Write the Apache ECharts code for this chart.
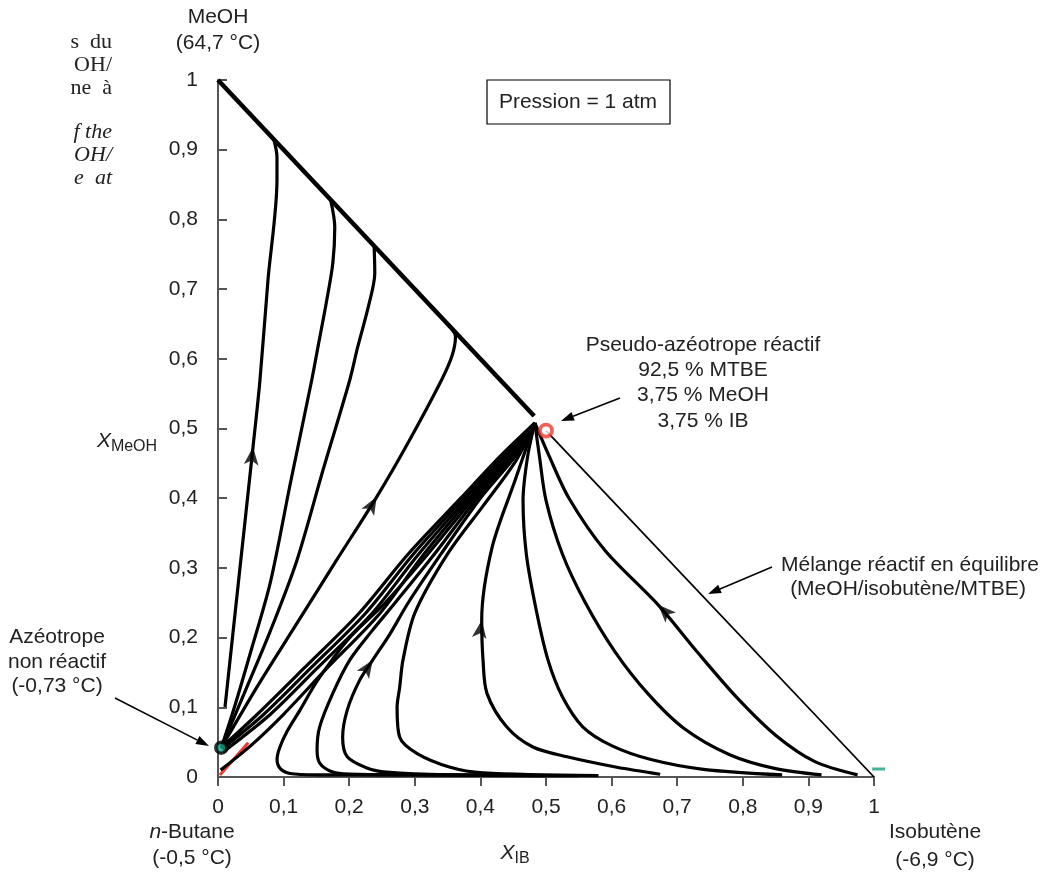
<!DOCTYPE html>
<html><head><meta charset="utf-8">
<script src="https://cdn.jsdelivr.net/npm/echarts@6/dist/echarts.min.js"></script>
<style>html,body{margin:0;padding:0;background:#fff}#c{width:1050px;height:875px}</style>
</head><body><div id="c"></div>
<script>
// ---------- data (x = X_IB, y = X_MeOH) ----------
const tickLabels = ['0','0,1','0,2','0,3','0,4','0,5','0,6','0,7','0,8','0,9','1'];

const diagonal = [[0,1],[0.482,0.518]];
const equilibriumLine = [[0.5,0.497],[1,0]];
const pseudoAzeotrope = [0.5,0.497];
const nonReactiveAzeotrope = [0.005,0.042];
const redSegment = [[0.003,0.003],[0.046,0.049]];
const tealMark = [1.007,0.0115];

const curveU1 = [[0.0107,0.1004],[0.032,0.287],[0.0534,0.4735],[0.064,0.5696],[0.0762,0.7131],[0.0899,0.8565],[0.0899,0.8895],[0.085,0.915]];
const curveU2 = [[0.005,0.042],[0.025,0.1],[0.05,0.18],[0.08,0.28],[0.11,0.42],[0.143,0.57],[0.153,0.62],[0.165,0.68],[0.175,0.737],[0.178,0.789],[0.171,0.831]];
const curveU3 = [[0.005,0.042],[0.04,0.12],[0.08,0.21],[0.12,0.31],[0.16,0.44],[0.201,0.57],[0.213,0.617],[0.229,0.674],[0.239,0.723],[0.238,0.762]];
const curveU4 = [[0.005,0.042],[0.06,0.13],[0.12,0.22],[0.18,0.31],[0.242,0.402],[0.29,0.48],[0.341,0.57],[0.357,0.605],[0.362,0.632],[0.352,0.648]];

const curveB1 = [[0.005,0.042],[0.06,0.09],[0.13,0.155],[0.215,0.235],[0.29,0.32],[0.37,0.40],[0.43,0.46],[0.483,0.508]];
const curveB2 = [[0.006,0.04],[0.07,0.09],[0.14,0.155],[0.225,0.235],[0.298,0.32],[0.375,0.40],[0.435,0.46],[0.483,0.508]];
const curveB3 = [[0.008,0.036],[0.08,0.09],[0.15,0.155],[0.235,0.235],[0.306,0.32],[0.38,0.40],[0.44,0.46],[0.483,0.508]];
const curveB4 = [[0.004,0.01],[0.05,0.045],[0.1,0.09],[0.165,0.155],[0.247,0.235],[0.314,0.32],[0.385,0.40],[0.443,0.46],[0.483,0.508]];

const curveL1 = [[0.42,0.003],[0.25,0.003],[0.15,0.003],[0.11,0.005],[0.095,0.012],[0.09,0.025],[0.094,0.042],[0.105,0.065],[0.125,0.096],[0.152,0.139],[0.198,0.197],[0.255,0.25],[0.32,0.32],[0.39,0.40],[0.447,0.46],[0.483,0.508]];
const curveL2 = [[0.5,0.002],[0.3,0.003],[0.2,0.004],[0.175,0.007],[0.155,0.02],[0.151,0.039],[0.155,0.072],[0.175,0.12],[0.201,0.168],[0.235,0.21],[0.27,0.25],[0.33,0.32],[0.395,0.40],[0.45,0.46],[0.483,0.508]];
const curveL3 = [[0.55,0.002],[0.35,0.003],[0.257,0.007],[0.227,0.013],[0.197,0.029],[0.19,0.057],[0.197,0.096],[0.216,0.139],[0.236,0.168],[0.262,0.205],[0.29,0.25],[0.34,0.32],[0.40,0.40],[0.453,0.46],[0.483,0.508]];
const curveL4 = [[0.58,0.002],[0.404,0.006],[0.354,0.014],[0.303,0.034],[0.277,0.057],[0.273,0.1],[0.277,0.129],[0.282,0.168],[0.30,0.235],[0.35,0.32],[0.405,0.39],[0.455,0.455],[0.483,0.508]];
const curveL5 = [[0.674,0.004],[0.608,0.014],[0.532,0.029],[0.48,0.043],[0.44,0.072],[0.41,0.12],[0.404,0.168],[0.402,0.225],[0.418,0.33],[0.453,0.426],[0.483,0.508]];

const curveR1 = [[0.483,0.508],[0.472,0.46],[0.465,0.397],[0.47,0.32],[0.485,0.24],[0.503,0.168],[0.525,0.115],[0.556,0.072],[0.60,0.045],[0.66,0.025],[0.74,0.011],[0.86,0.003]];
const curveR2 = [[0.483,0.508],[0.49,0.46],[0.5,0.397],[0.525,0.32],[0.56,0.25],[0.605,0.18],[0.655,0.12],[0.71,0.07],[0.78,0.032],[0.85,0.012],[0.92,0.003]];
const curveR3 = [[0.483,0.508],[0.505,0.46],[0.535,0.40],[0.59,0.325],[0.671,0.247],[0.73,0.18],[0.79,0.115],[0.85,0.06],[0.91,0.022],[0.975,0.003]];

// arrow marks: [x, y, towardX, towardY]
const arrowMarks = [[0.0534,0.4735,0.064,0.5696],[0.242,0.402,0.29,0.48],[0.236,0.168,0.262,0.205],[0.402,0.225,0.418,0.33],[0.671,0.247,0.59,0.325]];

// ---------- chart ----------
const FONT = "'Liberation Sans', Arial, sans-serif";
const FS = 21;
const chart = echarts.init(document.getElementById('c'), null, {renderer:'canvas'});

const residueCurves = [curveU1,curveU2,curveU3,curveU4,curveB1,curveB2,curveB3,curveB4,curveL1,curveL2,curveL3,curveL4,curveL5,curveR1,curveR2,curveR3];

function lineSeries(data, opts) {
  return Object.assign({type:'line', data, showSymbol:false, symbol:'none', silent:true,
    lineStyle:{color:'#000', width:3.2}, z:3}, opts||{});
}

const series = [];
residueCurves.forEach(c => series.push(lineSeries(c, {smooth:0.3})));
series.push(lineSeries(diagonal, {lineStyle:{color:'#000', width:4.5}}));
series.push(lineSeries(equilibriumLine, {lineStyle:{color:'#000', width:1.8}}));
series.push(lineSeries(redSegment, {lineStyle:{color:'#ee3b30', width:3}, z:2}));
series.push({type:'scatter', data:[tealMark], symbol:'rect', symbolSize:[13,3], clip:false,
  itemStyle:{color:'#17a083'}, z:6, silent:true});
series.push({type:'scatter', id:'arrows', data: arrowMarks.map(a=>[a[0],a[1]]), symbol:'arrow', symbolSize:[11,18],
  itemStyle:{color:'#000'}, z:6, silent:true});
series.push({type:'scatter', data:[nonReactiveAzeotrope], symbol:'circle', symbolSize:11,
  itemStyle:{color:'#13a085', borderColor:'#000', borderWidth:3.5}, z:8, silent:true});
series.push({type:'scatter', data:[pseudoAzeotrope], symbol:'circle', symbolSize:12,
  itemStyle:{color:'#fff', borderColor:'#f0392c', borderWidth:3.8}, z:8, silent:true});

function arrowGraphic(x1,y1,x2,y2){
  const ang = Math.atan2(y2-y1, x2-x1), L=13, W=4.5;
  const bx = x2 - L*Math.cos(ang), by = y2 - L*Math.sin(ang);
  const px = -Math.sin(ang)*W, py = Math.cos(ang)*W;
  return [
    {type:'line', shape:{x1,y1,x2:bx,y2:by}, style:{stroke:'#000', lineWidth:1.5}, z:20},
    {type:'polygon', shape:{points:[[x2,y2],[bx+px,by+py],[bx-px,by-py]]}, style:{fill:'#000'}, z:20}
  ];
}
function txt(x,y,text){
  return {type:'text', x, y, z:20, style:{text, fill:'#222', font:FS+'px '+FONT,
    textAlign:'center', textVerticalAlign:'middle'}};
}
const serif = "'Liberation Serif', 'Times New Roman', serif";
function captionTxt(y,text,italic){
  return {type:'text', x:112, y, z:20, style:{text, fill:'#222', font:(italic?'italic ':'')+'22px '+serif, textAlign:'right', textVerticalAlign:'middle'}};
}

const graphic = [
  captionTxt(42,'s  du',false), captionTxt(65,'OH/',false), captionTxt(88,'ne  à',false),
  captionTxt(132,'f the',true), captionTxt(155,'OH/',true), captionTxt(178,'e  at',true),
  txt(218,17,'MeOH'), txt(218,43,'(64,7 °C)'),
  {type:'rect', shape:{x:487,y:80,width:183,height:44}, style:{fill:'#fff', stroke:'#000', lineWidth:1.2}, z:19},
  txt(578,102,'Pression = 1 atm'),
  txt(703,345,'Pseudo-azéotrope réactif'), txt(703,370,'92,5 % MTBE'), txt(703,395,'3,75 % MeOH'), txt(703,421,'3,75 % IB'),
  ...arrowGraphic(620,398,561,421),
  txt(910,565,'Mélange réactif en équilibre'), txt(908,589,'(MeOH/isobutène/MTBE)'),
  ...arrowGraphic(772,567,708,594),
  txt(57,637,'Azéotrope'), txt(57,662,'non réactif'), txt(57,686,'(-0,73 °C)'),
  ...arrowGraphic(115,698,209,746),
  {type:'text', x:192, y:832, z:20, style:{text:'{i|n}{r|-Butane}', textAlign:'center', textVerticalAlign:'middle',
    rich:{i:{font:'italic '+FS+'px '+FONT, fill:'#222'}, r:{font:FS+'px '+FONT, fill:'#222'}}}},
  txt(192,858,'(-0,5 °C)'),
  txt(935,832,'Isobutène'), txt(935,860,'(-6,9 °C)'),
  {type:'text', x:515, y:853, z:20, style:{text:'{x|X}{s|IB}', textAlign:'center', textVerticalAlign:'middle',
    rich:{x:{font:'italic '+FS+'px '+FONT, fill:'#222'}, s:{font:'16px '+FONT, fill:'#222', padding:[12,0,0,0]}}}},
  {type:'text', x:127, y:441, z:20, style:{text:'{x|X}{s|MeOH}', textAlign:'center', textVerticalAlign:'middle',
    rich:{x:{font:'italic '+FS+'px '+FONT, fill:'#222'}, s:{font:'16px '+FONT, fill:'#222', padding:[12,0,0,0]}}}}
];

const axisCommon = {
  min:0, max:1, interval:0.1,
  axisLine:{show:true, onZero:false, lineStyle:{color:'#555', width:2}},
  splitLine:{show:false},
  axisLabel:{color:'#222', fontSize:FS, fontFamily:FONT, formatter:v=>tickLabels[Math.round(v*10)]}
};

const option = {
  animation:false,
  backgroundColor:'#fff',
  grid:{left:218, right:176, top:80, bottom:98, containLabel:false},
  xAxis:Object.assign({}, axisCommon, {type:'value',
    axisTick:{show:true, inside:false, length:9, lineStyle:{color:'#555', width:2}},
    axisLabel:Object.assign({}, axisCommon.axisLabel, {margin:20})}),
  yAxis:Object.assign({}, axisCommon, {type:'value',
    axisTick:{show:true, inside:true, length:9, lineStyle:{color:'#555', width:2}},
    axisLabel:Object.assign({}, axisCommon.axisLabel, {margin:20, padding:[0,0,10,0]})}),
  series,
  graphic
};
chart.setOption(option);

const rot = arrowMarks.map(a=>{
  const p1 = chart.convertToPixel({gridIndex:0},[a[0],a[1]]);
  const p2 = chart.convertToPixel({gridIndex:0},[a[2],a[3]]);
  return Math.atan2(-(p2[1]-p1[1]), p2[0]-p1[0])*180/Math.PI - 90;
});
chart.setOption({series:[{id:'arrows', data:arrowMarks.map((a,i)=>({value:[a[0],a[1]], symbolRotate:rot[i]}))}]});
</script></body></html>
